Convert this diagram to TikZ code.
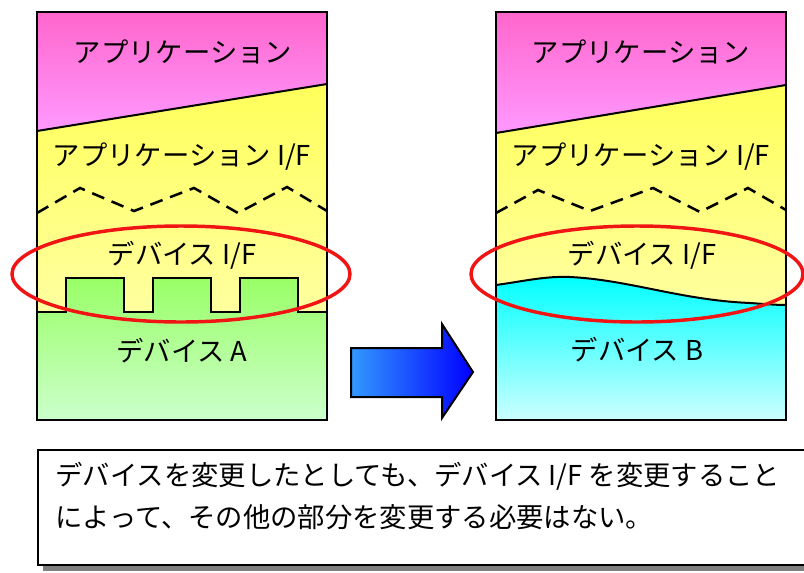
\documentclass[tikz,border=0pt]{standalone}
\usepackage{fontspec}
\setmainfont{Noto Sans CJK JP}

\definecolor{pinkTop}{RGB}{255,102,204}
\definecolor{pinkBot}{RGB}{255,153,255}
\definecolor{yelTop}{RGB}{255,255,90}
\definecolor{yelBot}{RGB}{255,255,160}
\definecolor{grnTop}{RGB}{153,255,102}
\definecolor{grnBot}{RGB}{204,255,204}
\definecolor{cyTop}{RGB}{0,255,255}
\definecolor{cyBot}{RGB}{204,255,255}
\definecolor{arrL}{RGB}{51,153,255}
\definecolor{arrR}{RGB}{0,0,255}
\definecolor{ringRed}{RGB}{240,20,20}

\tikzset{every picture/.style={line width=0.75pt}}
\tikzset{lbl/.style={font=\fontsize{20.5}{24}\selectfont, inner sep=0.75pt}}

\begin{document}
\begin{tikzpicture}[x=0.75pt,y=0.75pt,yscale=-1,xscale=1]
\useasboundingbox (0,0) rectangle (804,572);

%Shape: Polygon [application, left]
\shade [top color=pinkTop, bottom color=pinkBot] (37,12) -- (327,12) -- (327,84) -- (37,131) -- cycle ;
%Shape: Polygon [application I/F, left]
\shade [top color=yelTop, bottom color=yelBot] (37,131) -- (327,84) -- (327,312) -- (37,312) -- cycle ;
%Shape: Polygon [device A]
\shade [top color=grnTop, bottom color=grnBot] (37,420) -- (37,312) -- (66,312) -- (66,278) -- (124,278) -- (124,312) -- (153,312) -- (153,278) -- (211,278) -- (211,312) -- (240,312) -- (240,278) -- (298,278) -- (298,312) -- (327,312) -- (327,420) -- cycle ;
\draw [line width=1.5]  (37,312) -- (66,312) -- (66,278) -- (124,278) -- (124,312) -- (153,312) -- (153,278) -- (211,278) -- (211,312) -- (240,312) -- (240,278) -- (298,278) -- (298,312) -- (327,312) ;
%Straight Lines
\draw [line width=1.5]    (37,131) -- (327,84) ;
%Dashed zigzag
\draw [line width=1.9, dash pattern={on 9.75pt off 6pt}]    (37,213) -- (80,188) -- (134,211) -- (194,188) -- (238,213) -- (287,187) -- (327,211) ;
%Shape: Rectangle
\draw [line width=1.5]  (37,12) rectangle (327,420) ;

%Shape: Polygon [application, right]
\shade [top color=pinkTop, bottom color=pinkBot] (496,12) -- (786,12) -- (786,85) -- (496,133) -- cycle ;
%Shape: Polygon [application I/F, right]
\shade [top color=yelTop, bottom color=yelBot] (496,133) -- (786,85) -- (786,306) -- (496,306) -- cycle ;
%Shape: Wave [device B]
\shade [top color=cyTop, bottom color=cyBot] (496,420) -- (496,285) .. controls (525,281) and (545,276) .. (570,277) .. controls (630,280) and (680,300) .. (750,303) .. controls (765,304) and (776,305) .. (786,305) -- (786,420) -- cycle ;
\draw [line width=1.5]  (496,285) .. controls (525,281) and (545,276) .. (570,277) .. controls (630,280) and (680,300) .. (750,303) .. controls (765,304) and (776,305) .. (786,305) ;
%Straight Lines
\draw [line width=1.5]    (496,133) -- (786,85) ;
%Dashed zigzag
\draw [line width=1.9, dash pattern={on 9.75pt off 6pt}]    (496,213) -- (538,190) -- (590,211) -- (653,188) -- (700,212) -- (748,188) -- (786,210) ;
%Shape: Rectangle
\draw [line width=1.5]  (496,12) rectangle (786,420) ;

%Shape: Ellipse
\draw [color=ringRed, line width=2.6]  (181,274) ellipse (169 and 48) ;
%Shape: Ellipse
\draw [color=ringRed, line width=2.6]  (637,274) ellipse (166 and 48) ;

%Shape: Right Arrow
\shade [left color=arrL, right color=arrR] (351,348) -- (442,348) -- (442,324) -- (473,372) -- (442,418) -- (442,397) -- (351,397) -- cycle ;
\draw [line width=1.5]  (351,348) -- (442,348) -- (442,324) -- (473,372) -- (442,418) -- (442,397) -- (351,397) -- cycle ;

%Shape: Rectangle [note, shadow]
\fill [color={rgb, 255:red, 128; green, 128; blue, 128 }] (43,455) rectangle (830,571) ;
\draw [line width=1.5, fill=white] (38,450) rectangle (825,565) ;

% Text Node
\node (appL) [lbl] at (183,52) {アプリケーション};
% Text Node
\node (appifL) [lbl] at (182,157) {アプリケーション I/F};
% Text Node
\node (devifL) [lbl] at (182,255) {デバイス I/F};
% Text Node
\node (devA) [lbl] at (182,351) {デバイス A};
% Text Node
\node (appR) [lbl] at (641,52) {アプリケーション};
% Text Node
\node (appifR) [lbl] at (641,157) {アプリケーション I/F};
% Text Node
\node (devifR) [lbl] at (642,255) {デバイス I/F};
% Text Node
\node (devB) [lbl] at (637,350) {デバイス B};
% Text Node
\node (note) [anchor=west, align=left, inner sep=0pt, font=\fontsize{20.5}{31.5}\selectfont] at (55,496.5) {デバイスを変更したとしても、デバイス I/F を変更すること\\によって、その他の部分を変更する必要はない。};

\end{tikzpicture}
\end{document}
